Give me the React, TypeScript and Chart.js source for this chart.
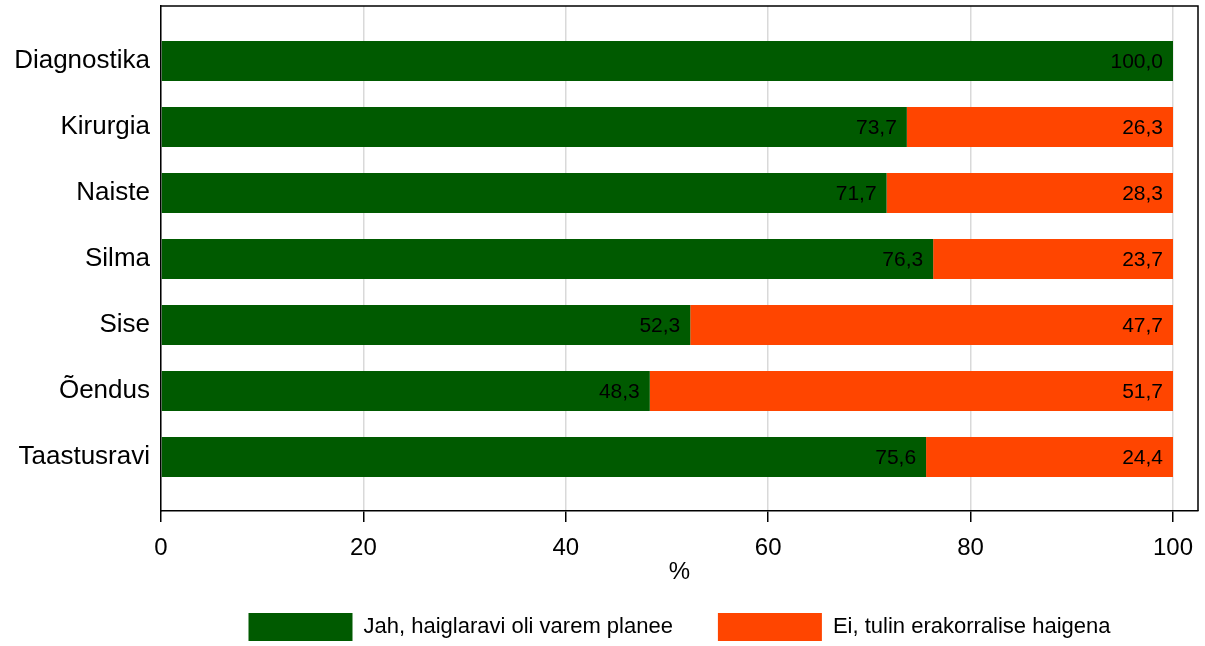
import React, { useEffect, useRef } from 'react';
import { Chart, registerables } from 'chart.js';

Chart.register(...registerables);

const categories = ['Diagnostika', 'Kirurgia', 'Naiste', 'Silma', 'Sise', 'Õendus', 'Taastusravi'];
const planned = [100.0, 73.7, 71.7, 76.3, 52.3, 48.3, 75.6];
const emergency = [0, 26.3, 28.3, 23.7, 47.7, 51.7, 24.4];
const seriesNames = ['Jah, haiglaravi oli varem planee', 'Ei, tulin erakorralise haigena'];
const seriesColors = ['#005a00', '#ff4500'];
const xTicks = [0, 20, 40, 60, 80, 100];
const xTitle = '%';

const FONT = "'Liberation Sans', Arial, Helvetica, sans-serif";

const framePlugin = {
  id: 'frame',
  afterDraw(chart: any) {
    const { ctx, chartArea } = chart;
    const { left, right, top, bottom } = chartArea;
    ctx.save();
    ctx.strokeStyle = '#000';
    ctx.lineWidth = 1.5;
    ctx.beginPath();
    ctx.moveTo(left, top);
    ctx.lineTo(right, top);
    ctx.lineTo(right, bottom);
    ctx.stroke();
    ctx.restore();
  },
};

const valueLabelPlugin = {
  id: 'valueLabels',
  afterDatasetsDraw(chart: any) {
    const { ctx } = chart;
    ctx.save();
    ctx.font = `21px ${FONT}`;
    ctx.fillStyle = '#000';
    ctx.textAlign = 'right';
    ctx.textBaseline = 'middle';
    chart.data.datasets.forEach((ds: any, di: number) => {
      const meta = chart.getDatasetMeta(di);
      meta.data.forEach((el: any, i: number) => {
        const v = ds.data[i].x;
        if (!v) return;
        ctx.fillText(v.toFixed(1).replace('.', ','), el.x - 10, el.y + 1);
      });
    });
    ctx.restore();
  },
};

export default function App() {
  const canvasRef = useRef<HTMLCanvasElement | null>(null);

  useEffect(() => {
    if (!canvasRef.current) return;
    Chart.defaults.font.family = FONT;
    Chart.defaults.color = '#000';
    const chart = new Chart(canvasRef.current, {
      type: 'bar',
      data: {
        datasets: [
          {
            label: seriesNames[0],
            data: planned.map((v, i) => ({ x: v, y: i })),
            backgroundColor: seriesColors[0],
            borderWidth: 0,
            categoryPercentage: 0.606,
            barPercentage: 1,
          },
          {
            label: seriesNames[1],
            data: emergency.map((v, i) => ({ x: v, y: i })),
            backgroundColor: seriesColors[1],
            borderWidth: 0,
            categoryPercentage: 0.606,
            barPercentage: 1,
          },
        ],
      },
      options: {
        indexAxis: 'y',
        animation: false,
        responsive: false,
        layout: { padding: { left: 11, right: 7, top: 6, bottom: 0 } },
        scales: {
          x: {
            type: 'linear',
            min: 0,
            max: 102.47,
            stacked: true,
            afterBuildTicks: (s: any) => {
              s.ticks = xTicks.map((v) => ({ value: v }));
            },
            ticks: {
              font: { size: 24 },
              color: '#000',
              padding: 11.6,
              maxRotation: 0,
            },
            grid: {
              color: '#d9d9d9',
              lineWidth: 1.5,
              tickColor: '#000',
              tickLength: 11,
              tickWidth: 1.5,
            },
            border: { color: '#000', width: 1.5 },
            title: {
              display: true,
              text: xTitle,
              font: { size: 24 },
              color: '#000',
              padding: { top: -16.4, bottom: -18.4 },
            },
          },
          y: {
            type: 'linear',
            reverse: true,
            offset: false,
            min: -0.833,
            max: 6.818,
            stacked: true,
            afterBuildTicks: (s: any) => {
              s.ticks = categories.map((_, i) => ({ value: i }));
            },
            afterFit: (s: any) => {
              s.width = 150;
              s.paddingTop = 0;
              s.paddingBottom = 0;
            },
            ticks: {
              font: { size: 26 },
              color: '#000',
              padding: 11,
              autoSkip: false,
              callback: (v: any) => categories[v as number] ?? '',
            },
            grid: { display: false, drawTicks: false, tickLength: 0 },
            border: { color: '#000', width: 1.5 },
          },
        },
        plugins: {
          legend: {
            position: 'bottom',
            fullSize: false,
            maxHeight: 78,
            labels: {
              boxWidth: 104,
              boxHeight: 28,
              padding: 45,
              font: { size: 22 },
              color: '#000',
            },
          },
          tooltip: { enabled: false },
        },
      },
      plugins: [framePlugin, valueLabelPlugin],
    } as any);
    return () => chart.destroy();
  }, []);

  return (
    <div style={{ position: 'absolute', left: 0, top: 0, width: 1205, height: 646, background: '#fff' }}>
      <canvas ref={canvasRef} width={1205} height={646} />
    </div>
  );
}
